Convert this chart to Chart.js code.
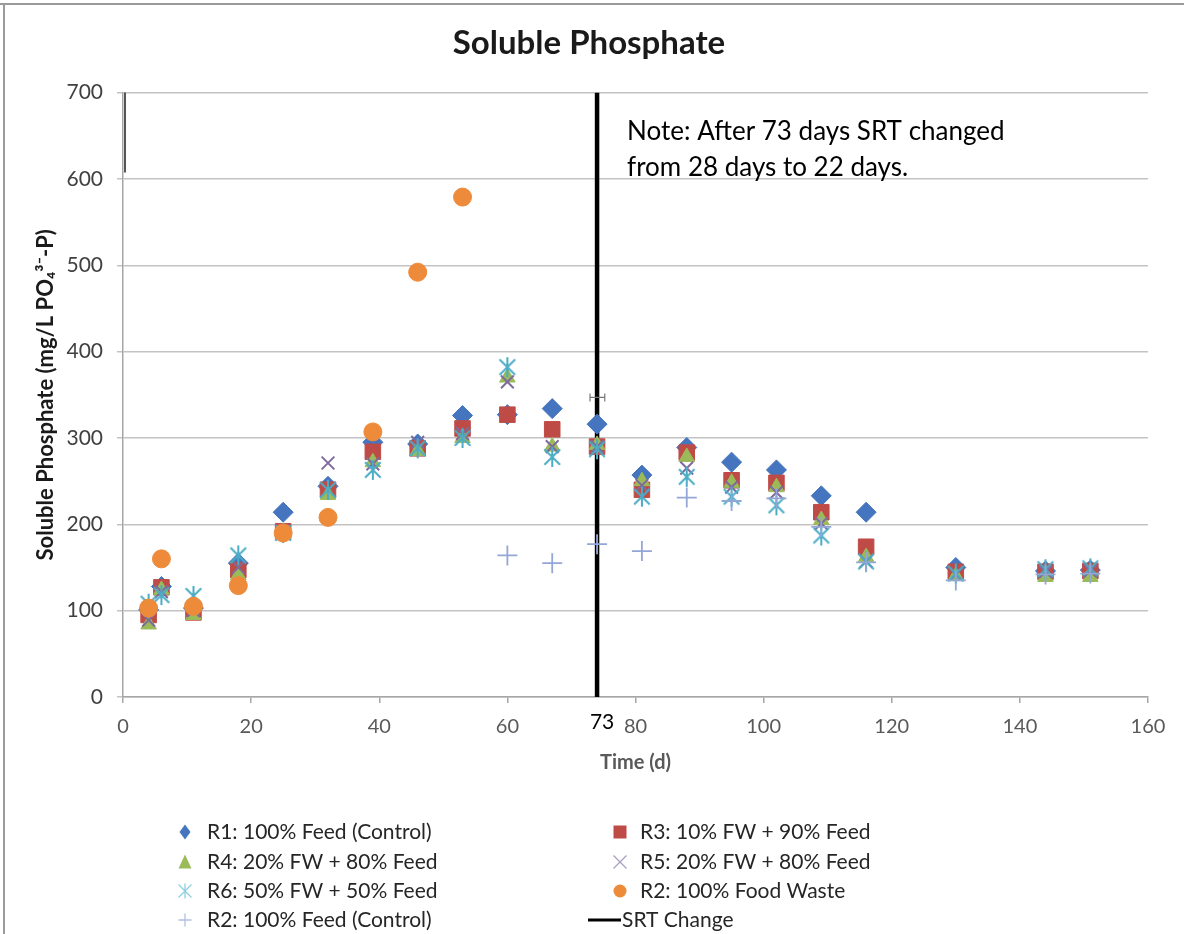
<!DOCTYPE html>
<html><head><meta charset="utf-8">
<script src="https://cdn.jsdelivr.net/npm/chart.js@4"></script>
<style>html,body{margin:0;padding:0;background:#fff;}canvas{display:block;}</style>
</head><body>
<canvas id="c" width="1184" height="934"></canvas>
<script>
// ---- data ----
const days = [4, 6, 11, 18, 25, 32, 39, 46, 53, 60, 67, 74, 81, 88, 95, 102, 109, 116, 130, 144, 151];
const r1Control = [101, 128, 103, 155, 214, 244, 295, 293, 326, 327, 334, 316, 257, 289, 272, 263, 233, 214, 150, 146, 147];
const r3Fw10 = [95, 127, 98, 147, 192, 240, 284, 288, 311, 327, 310, 290, 240, 283, 251, 248, 214, 174, 145, 145, 146];
const r4Fw20 = [84, 124, 95, 141, 188, 234, 272, 285, 300, 370, 290, 292, 250, 278, 248, 243, 205, 162, 140, 139, 139];
const r5Fw20 = [89, 122, 100, 150, 192, 271, 270, 295, 305, 365, 290, 290, 245, 265, 243, 237, 201, 157, 142, 145, 146];
const r6Fw50 = [108, 118, 117, 164, 190, 240, 263, 288, 300, 382, 278, 287, 232, 255, 232, 222, 187, 157, 143, 148, 149];
const fwDays = [4, 6, 11, 18, 25, 32, 39, 46, 53];
const r2FoodWaste = [103, 160, 105, 129, 190, 208, 307, 492, 579];
const feedDays = [60, 67, 74, 81, 88, 95, 102, 109, 116, 130, 144, 151];
const r2Feed = [164, 155, 177, 169, 231, 227, 230, 197, 156, 135, 142, 143];
const srtDays = [74, 74];
const srtValues = [0, 700];
const errDays = [72.9, 75.2];
const errValues = [347, 347];
const seriesNames = ['R1: 100% Feed (Control)', 'R3: 10% FW + 90% Feed', 'R4: 20% FW + 80% Feed',
  'R5: 20% FW + 80% Feed', 'R6: 50% FW + 50% Feed', 'R2: 100% Food Waste', 'R2: 100% Feed (Control)', 'SRT Change'];
const xTickValues = [0, 20, 40, 60, 80, 100, 120, 140, 160];
const yTickValues = [0, 100, 200, 300, 400, 500, 600, 700];

// ---- helpers ----
const pts = (xs, ys) => xs.map((x, i) => ({x: x, y: ys[i]}));
const C = {r1:'#4575bf', r3:'#bf4b47', r4:'#9bbb59', r5:'#7f6a9c', r6:'#4bacc6', fw:'#ee8b3b', feed:'#93a7d6'};

function starCanvas(size, color, lw) {
  const cv = document.createElement('canvas');
  cv.width = size; cv.height = size;
  const g = cv.getContext('2d');
  const m = size / 2, r = size / 2 - 1;
  g.strokeStyle = color; g.lineWidth = lw; g.lineCap = 'butt';
  g.beginPath();
  g.moveTo(m, m - r); g.lineTo(m, m + r);
  const d = r * 0.78;
  g.moveTo(m - d, m - d); g.lineTo(m + d, m + d);
  g.moveTo(m + d, m - d); g.lineTo(m - d, m + d);
  g.stroke();
  return cv;
}
const starImg = starCanvas(22, C.r6, 2);

const F = 'Lato, "Open Sans", sans-serif';

const decor = {
  id: 'decor',
  beforeDraw(chart) {
    const ctx = chart.ctx;
    ctx.save();
    ctx.fillStyle = '#fff';
    ctx.fillRect(0, 0, chart.width, chart.height);
    ctx.strokeStyle = '#9a9a9a'; ctx.lineWidth = 2;
    ctx.beginPath();
    ctx.moveTo(0, 4); ctx.lineTo(chart.width, 4);
    ctx.moveTo(4, 4); ctx.lineTo(4, chart.height);
    ctx.stroke();
    ctx.restore();
  },
  afterDraw(chart) {
    const ctx = chart.ctx, a = chart.chartArea, xs = chart.scales.x;
    ctx.save();
    ctx.strokeStyle = '#555'; ctx.lineWidth = 2;
    ctx.beginPath(); ctx.moveTo(a.left + 2, a.top); ctx.lineTo(a.left + 2, a.top + 80); ctx.stroke();
    // note
    ctx.fillStyle = '#000'; ctx.font = '26px ' + F; ctx.textBaseline = 'middle'; ctx.textAlign = 'left';
    const nx = xs.getPixelForValue(74) + 30;
    ctx.fillText('Note: After 73 days SRT changed', nx, a.top + 39);
    ctx.fillText('from 28 days to 22 days.', nx, a.top + 75);
    // 73 label
    ctx.font = '21px ' + F; ctx.textAlign = 'center';
    ctx.fillText('73', xs.getPixelForValue(74) + 5, a.bottom + 25);
    // legend
    const rows = [832, 862, 891, 920];
    const cols = [{m: 185, t: 207}, {m: 620, t: 640}];
    const styles = ['diamond', 'square', 'triangle', 'x', 'star', 'circle', 'plus', 'line'];
    const colors = [C.r1, C.r3, C.r4, '#a99fc4', '#8fd0e0', C.fw, '#b3bfe0', '#000'];
    ctx.font = '21px ' + F; ctx.textAlign = 'left';
    for (let i = 0; i < seriesNames.length; i++) {
      const col = cols[i % 2], y = rows[Math.floor(i / 2)];
      drawMarker(ctx, styles[i], colors[i], col.m, y, 6.5);
      ctx.fillStyle = '#262626';
      ctx.fillText(seriesNames[i], styles[i] === 'line' ? col.t - 18 : col.t, y);
    }
    ctx.restore();
  }
};

function drawMarker(ctx, s, color, x, y, r) {
  ctx.save();
  ctx.fillStyle = color; ctx.strokeStyle = color; ctx.lineWidth = 1.3;
  ctx.beginPath();
  if (s === 'diamond') { ctx.moveTo(x, y - r - 1); ctx.lineTo(x + r - 1, y); ctx.lineTo(x, y + r + 1); ctx.lineTo(x - r + 1, y); ctx.closePath(); ctx.fill(); }
  else if (s === 'square') { ctx.rect(x - r, y - r, 2 * r, 2 * r); ctx.fill(); }
  else if (s === 'triangle') { ctx.moveTo(x, y - r - 1); ctx.lineTo(x + r, y + r); ctx.lineTo(x - r, y + r); ctx.closePath(); ctx.fill(); }
  else if (s === 'circle') { ctx.arc(x, y, r, 0, Math.PI * 2); ctx.fill(); }
  else if (s === 'x') { ctx.moveTo(x - r, y - r); ctx.lineTo(x + r, y + r); ctx.moveTo(x + r, y - r); ctx.lineTo(x - r, y + r); ctx.stroke(); }
  else if (s === 'plus') { ctx.moveTo(x - r, y); ctx.lineTo(x + r, y); ctx.moveTo(x, y - r); ctx.lineTo(x, y + r); ctx.stroke(); }
  else if (s === 'star') { ctx.moveTo(x, y - r - 1); ctx.lineTo(x, y + r + 1); ctx.moveTo(x - r, y - r); ctx.lineTo(x + r, y + r); ctx.moveTo(x + r, y - r); ctx.lineTo(x - r, y + r); ctx.stroke(); }
  else if (s === 'line') { ctx.lineWidth = 3; ctx.moveTo(x - 32, y); ctx.lineTo(x + 1, y); ctx.stroke(); }
  ctx.restore();
}

const mk = (label, data, style, color, radius, extra) => Object.assign({
  label: label, data: data, pointStyle: style, pointRadius: radius, pointHoverRadius: radius,
  backgroundColor: color, borderColor: color, pointBorderWidth: 1, showLine: false
}, extra || {});

const datasets = [
  mk(seriesNames[0], pts(days, r1Control), 'rectRot', C.r1, 10, {order: 8}),
  mk(seriesNames[1], pts(days, r3Fw10), 'rect', C.r3, 11, {order: 7}),
  mk(seriesNames[2], pts(days, r4Fw20), 'triangle', C.r4, 9, {order: 6}),
  mk(seriesNames[3], pts(days, r5Fw20), 'crossRot', C.r5, 9, {order: 5, pointBorderWidth: 2}),
  mk(seriesNames[4], pts(days, r6Fw50), starImg, C.r6, 10, {order: 4}),
  mk(seriesNames[5], pts(fwDays, r2FoodWaste), 'circle', C.fw, 9, {order: 3}),
  mk(seriesNames[6], pts(feedDays, r2Feed), 'cross', C.feed, 10, {order: 2, pointBorderWidth: 1.8}),
  {label: seriesNames[7], data: pts(srtDays, srtValues), showLine: true, borderColor: '#000', borderWidth: 4.5, pointRadius: 0, order: 9},
  {label: 'err', data: pts(errDays, errValues), showLine: true, borderColor: '#777', borderWidth: 1.2,
   pointStyle: 'line', rotation: 90, pointRadius: 4, pointBorderColor: '#777', pointBorderWidth: 1.2, order: 1}
];

new Chart(document.getElementById('c'), {
  type: 'scatter',
  data: {datasets: datasets},
  plugins: [decor],
  options: {
    responsive: false, animation: false, devicePixelRatio: 1,
    layout: {padding: {top: 8, left: 30, right: 36, bottom: 157}},
    plugins: {
      legend: {display: false}, tooltip: {enabled: false},
      title: {display: true, text: 'Soluble Phosphate', color: '#1a1a1a',
        font: {family: F, size: 33, weight: 'bold'}, padding: {top: 16, bottom: 29}}
    },
    scales: {
      x: {
        type: 'linear', min: 0, max: 160,
        afterBuildTicks: s => { s.ticks = xTickValues.map(v => ({value: v})); },
        afterFit: s => { s.height = 80; },
        ticks: {color: '#595959', font: {family: F, size: 20}, padding: 12, maxRotation: 0},
        grid: {drawOnChartArea: false, drawTicks: true, tickLength: 6, color: '#a6a6a6', lineWidth: 1.5},
        border: {display: true, color: '#a6a6a6', width: 1.5},
        title: {display: true, text: 'Time (d)', color: '#595959', font: {family: F, size: 20, weight: 'bold'}, padding: {top: 0, bottom: 2}}
      },
      y: {
        min: 0, max: 700,
        afterBuildTicks: s => { s.ticks = yTickValues.map(v => ({value: v})); },
        afterFit: s => { s.width = 93; },
        ticks: {color: '#404040', font: {family: F, size: 21}, padding: 14},
        grid: {color: '#c3c3c3', lineWidth: 1.5, tickLength: 6},
        border: {display: true, color: '#a6a6a6', width: 1.5},
        title: {display: true, text: 'Soluble Phosphate (mg/L PO₄³⁻-P)', color: '#1a1a1a',
          font: {family: F, size: 22, weight: 'bold'}, padding: {top: 3, bottom: 0}}
      }
    }
  }
});
</script>
</body></html>
